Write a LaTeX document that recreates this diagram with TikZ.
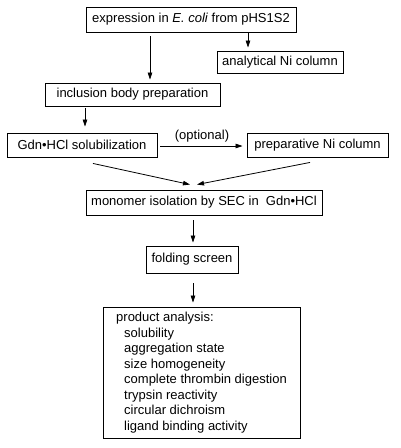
\documentclass[tikz,border=0pt]{standalone}
\usepackage{fontspec}
\setmainfont{Liberation Sans}
\usetikzlibrary{arrows.meta}
\begin{document}
\begin{tikzpicture}[x=1pt,y=-1pt,
	box/.style={draw,line width=0.9pt,inner sep=0pt,font=\fontsize{13}{15.5}\selectfont},
	arr/.style={-{Triangle[length=7pt,width=4.5pt]},line width=0.8pt}]
	\useasboundingbox (0,0) rectangle (400,448);
	\def\gdn{Gdn{\textbullet}HCl}
	\node[box,minimum width=210pt,minimum height=25pt] (expr) at (191,19.5) {expression in \emph{E. coli} from pHS1S2};
	\node[box,minimum width=126pt,minimum height=22pt] (anal) at (280,62) {analytical Ni column};
	\node[box,minimum width=175pt,minimum height=23pt] (incl) at (132.5,94.5) {inclusion body preparation};
	\node[box,minimum width=150pt,minimum height=24pt] (gdn) at (82,145) {\gdn\ solubilization};
	\node[box,minimum width=141pt,minimum height=24pt] (prep) at (317.5,145) {preparative Ni column};
	\node[box,minimum width=236pt,minimum height=25pt] (mono) at (204,202.5) {monomer isolation by SEC in \ \gdn};
	\node[box,minimum width=92pt,minimum height=27pt] (fold) at (192,259.5) {folding screen};
	\node[box,minimum width=197pt,minimum height=131pt,align=left] (prod) at (201.5,372.5) {product analysis:\\
		\hspace*{8pt}solubility\\
		\hspace*{8pt}aggregation state\\
		\hspace*{8pt}size homogeneity\\
		\hspace*{8pt}complete thrombin digestion\\
		\hspace*{8pt}trypsin reactivity\\
		\hspace*{8pt}circular dichroism\\
		\hspace*{8pt}ligand binding activity};
	\path
	(150,0) coordinate (xa)
	(248,0) coordinate (xb)
	(85,0) coordinate (xc)
	(193,0) coordinate (xd);
	\draw[arr,shorten <=4pt,shorten >=3pt] (expr.south -| xa) -- (incl.north -| xa);
	\draw[arr,shorten <=1pt,shorten >=3pt] (expr.south -| xb) -- (anal.north -| xb);
	\draw[arr,shorten <=2pt,shorten >=6pt] (incl.south -| xc) -- (gdn.north -| xc);
	\draw[arr,shorten <=3pt,shorten >=4pt] ([yshift=-1pt]gdn.east) -- node[above=0.5pt,font=\fontsize{13}{15.5}\selectfont]{(optional)} ([yshift=-1pt]gdn.east -| prep.west);
	\draw[arr] ([shift={(11,6)}]gdn.south) -- ([shift={(-14,-5)}]mono.north);
	\draw[arr] ([shift={(-7.5,5)}]prep.south) -- ([shift={(-7,-5)}]mono.north);
	\draw[arr,shorten <=5pt,shorten >=3pt] (mono.south -| xd) -- (fold.north -| xd);
	\draw[arr,shorten <=10pt,shorten >=4pt] (fold.south -| xd) -- (prod.north -| xd);
\end{tikzpicture}
\end{document}
